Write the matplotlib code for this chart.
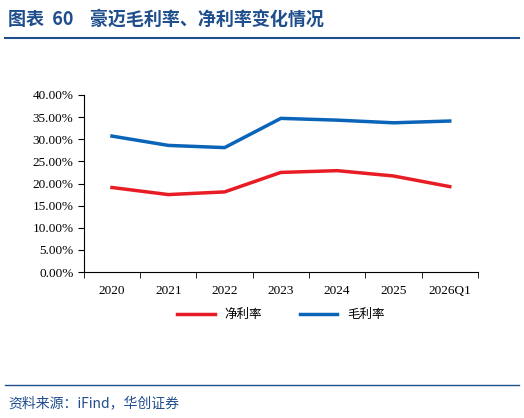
import matplotlib.pyplot as plt
from matplotlib.ticker import PercentFormatter
from matplotlib.lines import Line2D

plt.rcParams['font.family'] = ['Liberation Serif', 'Noto Sans CJK SC']

years = ["2020", "2021", "2022", "2023", "2024", "2025", "2026Q1"]
net_margin = [19.1, 17.5, 18.1, 22.5, 22.9, 21.7, 19.3]
gross_margin = [30.7, 28.6, 28.1, 34.7, 34.3, 33.7, 34.1]

fig = plt.figure(figsize=(5.24, 4.18), dpi=100)
ax = fig.add_axes([0.160, 0.349, 0.752, 0.424])

x = range(len(years))
ax.plot(x, net_margin, color="#E81C24", lw=2.5, label="净利率")
ax.plot(x, gross_margin, color="#0A64B8", lw=2.5, label="毛利率")

ax.set_ylim(0, 40)
ax.set_yticks([i * 5 for i in range(9)])
ax.yaxis.set_major_formatter(PercentFormatter(decimals=2))
ax.set_xlim(-0.5, len(years) - 0.5)
ax.set_xticks(list(x))
ax.set_xticklabels(years)
ax.set_xticks([i - 0.5 for i in range(len(years) + 1)], minor=True)
ax.tick_params(axis="x", which="major", length=0, pad=9)
ax.tick_params(axis="x", which="minor", length=4, direction="out")
ax.tick_params(axis="y", length=4, direction="out")
ax.tick_params(labelsize=9.5)
for s in ["top", "right"]:
    ax.spines[s].set_visible(False)

ax.legend(loc="upper center", bbox_to_anchor=(0.5, -0.14), ncol=2, frameon=False,
          prop={"family": "Noto Sans CJK SC", "size": 9}, handlelength=3, columnspacing=3)

navy = "#1F4E8C"
fig.text(0.015, 0.955, "图表  60    豪迈毛利率、净利率变化情况", color=navy, fontsize=13,
         fontweight="bold", family=["Noto Sans CJK SC"], va="center")
fig.add_artist(Line2D([0.01, 0.99], [0.908, 0.908], color=navy, lw=1.5))
fig.add_artist(Line2D([0.01, 0.99], [0.079, 0.079], color=navy, lw=1.0))
fig.text(0.015, 0.035, "资料来源：iFind，华创证券", color=navy, fontsize=10,
         style="italic", family=["Noto Sans CJK SC"], va="center")

fig.savefig("out.png", dpi=100)
